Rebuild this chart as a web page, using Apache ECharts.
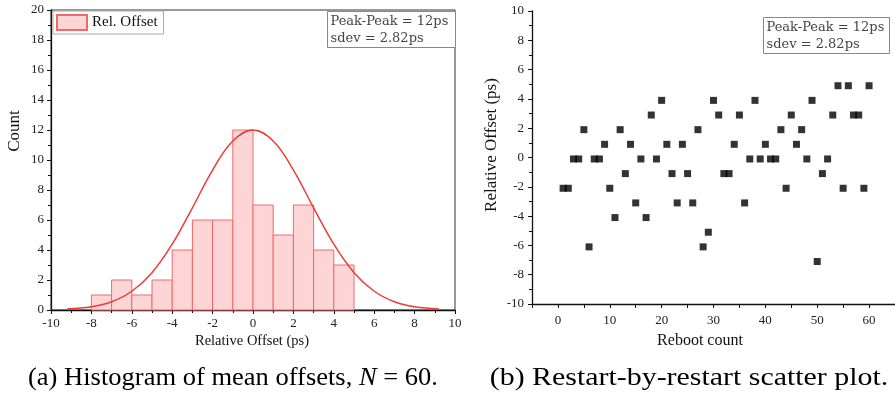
<!DOCTYPE html>
<html>
<head>
<meta charset="utf-8">
<script src="https://cdn.jsdelivr.net/npm/echarts@6/dist/echarts.min.js"></script>
<style>
  html, body { margin: 0; padding: 0; background: #fff; }
  #chart { width: 895px; height: 398px; }
</style>
</head>
<body>
<div id="chart"></div>
<script>
  // histogram bins: [start, end] and counts
  var binStart = [-8, -7, -6, -5, -4, -3, -2, -1, 0, 1, 2, 3, 4];
  var binEnd = [-7, -6, -5, -4, -3, -2, -1, 0, 1, 2, 3, 4, 5];
  var binCount = [1, 2, 1, 2, 4, 6, 6, 12, 7, 5, 7, 4, 3];

  // fitted normal curve
  var curveX = [-9.2, -8, -7, -6, -5, -4, -3, -2, -1, 0, 1, 2, 3, 4, 5, 6, 7, 8, 9.2];
  var curveY = [0.06, 0.21, 0.55, 1.25, 2.49, 4.39, 6.81, 9.33, 11.27, 12, 11.27, 9.33, 6.81, 4.39, 2.49, 1.25, 0.55, 0.21, 0.06];

  // scatter: reboot index and relative offset
  var rebootIdx = [];
  for (var i = 1; i <= 60; i++) rebootIdx.push(i);
  var offsets = [
    -2.1, -2.1, -0.1, -0.1, 1.9, -6.1, -0.1, -0.1, 0.9, -2.1,
    -4.1, 1.9, -1.1, 0.9, -3.1, -0.1, -4.1, 2.9, -0.1, 3.9,
    0.9, -1.1, -3.1, 0.9, -1.1, -3.1, 1.9, -6.1, -5.1, 3.9,
    2.9, -1.1, -1.1, 0.9, 2.9, -3.1, -0.1, 3.9, -0.1, 0.9,
    -0.1, -0.1, 1.9, -2.1, 2.9, 0.9, 1.9, -0.1, 3.9, -7.1,
    -1.1, -0.1, 2.9, 4.9, -2.1, 4.9, 2.9, 2.9, -2.1, 4.9
  ];
  var rebootLabels = [0, 10, 20, 30, 40, 50, 60];

  var statLines = ['Peak-Peak = 12ps', 'sdev = 2.82ps'];

  var tickFont = { fontFamily: 'Liberation Serif', fontSize: 13, color: '#222' };
  var axisLine = { onZero: false, lineStyle: { color: '#111', width: 1.3 } };

  var histData = binStart.map(function (s, k) { return [s, binEnd[k], binCount[k]]; });
  var curveData = curveX.map(function (x, k) { return [x, curveY[k]]; });
  var scatterData = rebootIdx.map(function (x, k) { return [x, offsets[k]]; });

  function statBox(x, y, w, h) {
    return {
      type: 'group', left: x, top: y,
      children: [
        { type: 'rect', shape: { x: 0, y: 0, width: w, height: h },
          style: { fill: '#fff', stroke: '#888', lineWidth: 1 } },
        { type: 'text', x: 3, y: 2,
          style: { text: statLines.join('\n'), fill: '#444', font: '13px "DejaVu Serif"', lineHeight: 17 } }
      ]
    };
  }

  var option = {
    animation: false,
    grid: [
      { left: 51, top: 10, width: 404, height: 300, show: true, borderColor: '#333', borderWidth: 1 },
      { left: 532, top: 11, width: 366, height: 293 }
    ],
    legend: {
      left: 53, top: 11, padding: [3, 6, 3, 3],
      itemWidth: 30, itemHeight: 15, itemGap: 5,
      borderColor: '#aaa', borderWidth: 1, backgroundColor: '#fff',
      textStyle: { fontFamily: 'Liberation Serif', fontSize: 15, color: '#111' },
      data: [{ name: 'Rel. Offset', icon: 'rect' }]
    },
    xAxis: [
      { type: 'value', gridIndex: 0, min: -10, max: 10, interval: 2,
        axisLine: axisLine, splitLine: { show: false },
        axisTick: { length: 4, lineStyle: { color: '#111' } },
        minorTick: { show: true, splitNumber: 2, length: 3, lineStyle: { color: '#111' } },
        axisLabel: Object.assign({ margin: 7 }, tickFont) },
      { type: 'value', gridIndex: 1, min: -5, max: 65, interval: 5,
        axisLine: axisLine, splitLine: { show: false },
        axisTick: { length: 4, lineStyle: { color: '#111' } },
        axisLabel: Object.assign({ margin: 10, customValues: rebootLabels }, tickFont) }
    ],
    yAxis: [
      { type: 'value', gridIndex: 0, min: 0, max: 20, interval: 2,
        axisLine: axisLine, splitLine: { show: false },
        axisTick: { length: 4, lineStyle: { color: '#111' } },
        minorTick: { show: true, splitNumber: 2, length: 3, lineStyle: { color: '#111' } },
        axisLabel: Object.assign({ margin: 7 }, tickFont) },
      { type: 'value', gridIndex: 1, min: -10, max: 10, interval: 2,
        axisLine: axisLine, splitLine: { show: false },
        axisTick: { length: 4, lineStyle: { color: '#111' } },
        minorTick: { show: true, splitNumber: 2, length: 3, lineStyle: { color: '#111' } },
        axisLabel: Object.assign({ margin: 8 }, tickFont) }
    ],
    series: [
      {
        name: 'Rel. Offset', type: 'custom', xAxisIndex: 0, yAxisIndex: 0,
        itemStyle: { color: '#fdd5d6', borderColor: '#f26868', borderWidth: 1 },
        encode: { x: [0, 1], y: 2 },
        data: histData,
        renderItem: function (params, api) {
          var p0 = api.coord([api.value(0), api.value(2)]);
          var p1 = api.coord([api.value(1), 0]);
          return {
            type: 'rect',
            shape: { x: p0[0], y: p0[1], width: p1[0] - p0[0], height: p1[1] - p0[1] },
            style: { fill: '#fdd5d6', stroke: '#f26868', lineWidth: 1 }
          };
        }
      },
      {
        name: 'fit', type: 'line', xAxisIndex: 0, yAxisIndex: 0,
        data: curveData, smooth: 0.4, showSymbol: false, z: 5,
        lineStyle: { color: '#ee3a3a', width: 1.5 }
      },
      {
        name: 'offset', type: 'scatter', xAxisIndex: 1, yAxisIndex: 1,
        data: scatterData, symbol: 'rect', symbolSize: 7,
        itemStyle: { color: '#000' }
      }
    ],
    graphic: [
      statBox(327, 11, 128, 36),
      statBox(763, 17, 126, 36),
      { type: 'text', x: 15, y: 131, rotation: Math.PI / 2,
        style: { text: 'Count', font: '17px "Liberation Serif"', fill: '#111', align: 'center', verticalAlign: 'middle' } },
      { type: 'text', x: 252, y: 341,
        style: { text: 'Relative Offset (ps)', font: '14.5px "Liberation Serif"', fill: '#111', align: 'center', verticalAlign: 'middle' } },
      { type: 'text', x: 492, y: 145, rotation: Math.PI / 2,
        style: { text: 'Relative Offset (ps)', font: '17px "Liberation Serif"', fill: '#111', align: 'center', verticalAlign: 'middle' } },
      { type: 'text', x: 700, y: 341,
        style: { text: 'Reboot count', font: '16px "Liberation Serif"', fill: '#111', align: 'center', verticalAlign: 'middle' } },
      { type: 'text', x: 233, y: 378, scaleX: 1.02,
        style: { text: '(a) Histogram of mean offsets, {i|N} = 60.', font: '26px "Liberation Serif"', fill: '#000', align: 'center', verticalAlign: 'middle',
          rich: { i: { font: 'italic 26px "Liberation Serif"', fill: '#000' } } } },
      { type: 'text', x: 689, y: 378, scaleX: 1.15,
        style: { text: '(b) Restart-by-restart scatter plot.', font: '26px "Liberation Serif"', fill: '#000', align: 'center', verticalAlign: 'middle' } }
    ]
  };

  var chart = echarts.init(document.getElementById('chart'));
  chart.setOption(option);
</script>
</body>
</html>
